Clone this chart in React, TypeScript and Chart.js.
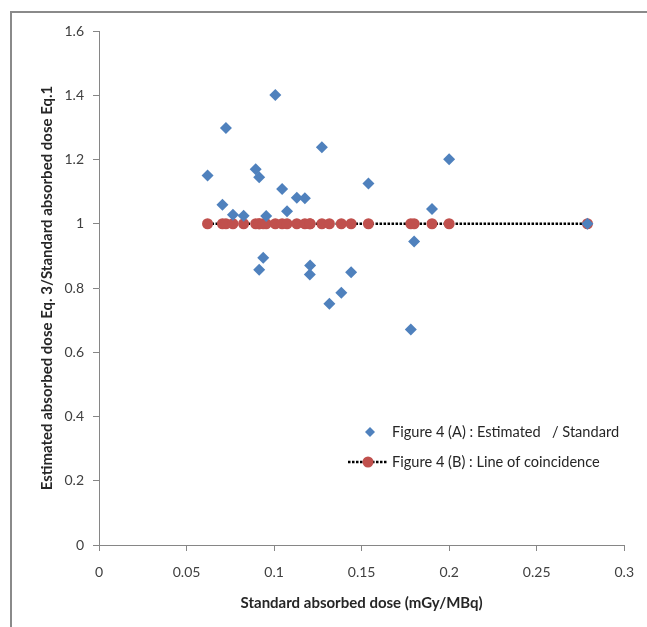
import React, { useEffect, useRef } from "react";
import { Chart, registerables } from "chart.js";

Chart.register(...registerables);

// Standard absorbed dose (mGy/MBq)
const standardDose = [
  0.062, 0.0705, 0.0725, 0.0765, 0.0826, 0.0895, 0.0915, 0.0915, 0.0938, 0.0955,
  0.1007, 0.1046, 0.1074, 0.113, 0.1176, 0.1204, 0.1206, 0.1273, 0.1316, 0.1384,
  0.144, 0.1539, 0.1781, 0.18, 0.1902, 0.2, 0.279,
];
// Figure 4 (A): Estimated / Standard ratio
const estimatedRatio = [
  1.15, 1.059, 1.298, 1.028, 1.025, 1.17, 1.145, 0.857, 0.894, 1.024,
  1.401, 1.108, 1.039, 1.081, 1.079, 0.842, 0.87, 1.238, 0.751, 0.785,
  0.849, 1.125, 0.671, 0.945, 1.046, 1.201, 1.0,
];
// Figure 4 (B): Line of coincidence
const coincidence = standardDose.map(() => 1);

const seriesLabels = [
  "Figure 4 (A) : Estimated   / Standard",
  "Figure 4 (B) : Line of coincidence",
];
const xTitle = "Standard absorbed dose (mGy/MBq)";
const yTitle = "Estimated absorbed dose Eq. 3/Standard absorbed dose Eq.1";

const BLUE = "#4F81BD";
const RED = "#C0504D";
const FONT = "Lato, 'Liberation Sans', sans-serif";

const fmt = (v: number | string) => String(+Number(v).toFixed(2));

const legendPlugin = {
  id: "insideLegend",
  afterDraw(chart: any) {
    const ctx = chart.ctx as CanvasRenderingContext2D;
    const a = chart.chartArea;
    const x0 = a.left + 271;
    const y1 = a.top + 401;
    const y2 = a.top + 431;
    ctx.save();
    // item 1: diamond
    ctx.fillStyle = BLUE;
    ctx.beginPath();
    ctx.moveTo(x0, y1 - 5);
    ctx.lineTo(x0 + 5, y1);
    ctx.lineTo(x0, y1 + 5);
    ctx.lineTo(x0 - 5, y1);
    ctx.closePath();
    ctx.fill();
    // item 2: dotted line + circle
    ctx.strokeStyle = "#000";
    ctx.lineWidth = 2.5;
    ctx.setLineDash([2.5, 1.5]);
    ctx.beginPath();
    ctx.moveTo(x0 - 22, y2);
    ctx.lineTo(x0 + 18, y2);
    ctx.stroke();
    ctx.setLineDash([]);
    ctx.fillStyle = RED;
    ctx.beginPath();
    ctx.arc(x0 - 2, y2, 5.5, 0, Math.PI * 2);
    ctx.fill();
    // texts
    ctx.fillStyle = "#262626";
    ctx.font = `14.6px ${FONT}`;
    ctx.textBaseline = "middle";
    ctx.textAlign = "left";
    ctx.fillText(seriesLabels[0], x0 + 22, y1);
    ctx.fillText(seriesLabels[1], x0 + 22, y2);
    ctx.restore();
  },
};

export default function App() {
  const ref = useRef<HTMLCanvasElement>(null);
  useEffect(() => {
    if (!ref.current) return;
    const chart = new Chart(ref.current, {
      type: "scatter",
      data: {
        datasets: [
          {
            label: seriesLabels[0],
            data: standardDose.map((x, i) => ({ x, y: estimatedRatio[i] })),
            pointStyle: "rectRot",
            pointRadius: 6,
            backgroundColor: BLUE,
            borderColor: BLUE,
            borderWidth: 0,
            showLine: false,
          },
          {
            label: seriesLabels[1],
            data: standardDose.map((x, i) => ({ x, y: coincidence[i] })),
            pointStyle: "circle",
            pointRadius: 5.5,
            backgroundColor: RED,
            borderColor: "#000",
            pointBorderColor: RED,
            pointBorderWidth: 0,
            borderWidth: 2.5,
            borderDash: [2.5, 1.5],
            showLine: true,
          } as any,
        ],
      },
      options: {
        animation: false,
        responsive: false,
        layout: { padding: { top: 31, right: 19, bottom: 0, left: 0 } },
        plugins: { legend: { display: false }, tooltip: { enabled: false } },
        scales: {
          x: {
            type: "linear",
            min: 0,
            max: 0.3,
            ticks: {
              stepSize: 0.05,
              callback: (v: any) => fmt(v),
              font: { family: FONT, size: 14 },
              color: "#404040",
              padding: 13,
            },
            grid: { drawOnChartArea: false, tickLength: 6, color: "#868686" },
            border: { color: "#868686" },
            title: {
              display: true,
              text: xTitle,
              font: { family: FONT, size: 15, weight: "bold" },
              color: "#262626",
              padding: { top: 0, bottom: 15 },
            },
            afterFit: (s: any) => {
              s.height = 82;
            },
          },
          y: {
            type: "linear",
            min: 0,
            max: 1.6,
            ticks: {
              stepSize: 0.2,
              callback: (v: any) => fmt(v),
              font: { family: FONT, size: 14 },
              color: "#404040",
              padding: 9,
            },
            grid: { drawOnChartArea: false, tickLength: 6, color: "#868686" },
            border: { color: "#868686" },
            title: {
              display: true,
              text: yTitle,
              font: { family: FONT, size: 15, weight: "bold" },
              color: "#262626",
              padding: { top: 38, bottom: 0 },
            },
            afterFit: (s: any) => {
              s.width = 99;
            },
          },
        },
      },
      plugins: [legendPlugin],
    });
    return () => chart.destroy();
  }, []);
  return (
    <div style={{ position: "fixed", left: 0, top: 0, width: 647, height: 627, background: "#fff" }}>
      <div
        style={{
          position: "absolute",
          left: 10,
          top: 11,
          right: 0,
          bottom: 0,
          borderTop: "2px solid #8a8a8a",
          borderLeft: "2px solid #8a8a8a",
        }}
      />
      <canvas ref={ref} width={647} height={627} style={{ position: "absolute", left: 0, top: 0 }} />
    </div>
  );
}
